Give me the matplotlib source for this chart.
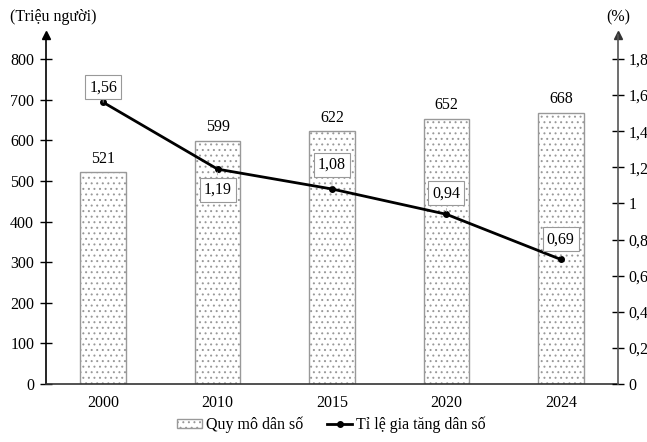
import matplotlib
matplotlib.use("Agg")
import matplotlib.pyplot as plt
from matplotlib.patches import Patch
from matplotlib.lines import Line2D

years = ["2000", "2010", "2015", "2020", "2024"]
population = [521, 599, 622, 652, 668]
growth = [1.56, 1.19, 1.08, 0.94, 0.69]
growth_labels = ["1,56", "1,19", "1,08", "0,94", "0,69"]
left_ticks = [0, 100, 200, 300, 400, 500, 600, 700, 800]
right_ticks = [0, 0.2, 0.4, 0.6, 0.8, 1.0, 1.2, 1.4, 1.6, 1.8]
right_tick_labels = ["0", "0,2", "0,4", "0,6", "0,8", "1", "1,2", "1,4", "1,6", "1,8"]
label_offsets_px = [15, -21, 24, 21, 20]

plt.rcParams['font.family'] = ['Liberation Serif', 'DejaVu Serif']
plt.rcParams['hatch.linewidth'] = 0.7

W, H = 647, 442
fig = plt.figure(figsize=(W / 100, H / 100), dpi=100)
y0, ytop = 384, 35
ax = fig.add_axes([46 / W, (H - y0) / H, 572 / W, (y0 - ytop) / H])
ymax = 800 * (y0 - ytop) / (y0 - 59)
ax.set_xlim(-0.5, 4.5)
ax.set_ylim(0, ymax)

x = list(range(len(years)))
ax.bar(x, population, width=0.4, color='white', edgecolor='#999999',
       hatch='...', linewidth=1.0, zorder=2)
for xi, v in zip(x, population):
    ax.text(xi, v + 14, str(v), ha='center', va='bottom', fontsize=11.5)

ax.set_yticks(left_ticks)
ax.set_yticklabels([str(t) for t in left_ticks], fontsize=11.5)
ax.set_xticks(x)
ax.set_xticklabels(years, fontsize=11.5)
ax.tick_params(axis='x', length=0, pad=8)
ax.tick_params(axis='y', direction='inout', length=9, width=1, pad=4)
for s in ['top', 'right']:
    ax.spines[s].set_visible(False)
ax.spines['left'].set_linewidth(1.2)
ax.spines['bottom'].set_linewidth(1.2)
ax.spines['bottom'].set_color('#333333')

ax2 = ax.twinx()
ax2.set_ylim(0, ymax * 1.8 / 800)
ax2.set_yticks(right_ticks)
ax2.set_yticklabels(right_tick_labels, fontsize=11.5)
ax2.tick_params(axis='y', direction='inout', length=9, width=1, pad=3)
for s in ['top', 'left', 'bottom']:
    ax2.spines[s].set_visible(False)
ax2.spines['right'].set_linewidth(1.2)
ax2.spines['right'].set_color('#555555')

ax2.plot(x, growth, color='black', linewidth=2, marker='o', markersize=4, zorder=5)
for xi, v, lab, off in zip(x, growth, growth_labels, label_offsets_px):
    ax2.annotate(lab, xy=(xi, v), xytext=(0, off * 0.72), textcoords='offset points',
                 ha='center', va='center', fontsize=11.5,
                 bbox=dict(boxstyle='square,pad=0.25', fc='white', ec='#999999', lw=0.8),
                 arrowprops=dict(arrowstyle='-', color='#aaaaaa', lw=0.6), zorder=6)

# axis arrows
ax.plot([0], [1], marker='^', color='black', markersize=6, transform=ax.transAxes, clip_on=False)
ax2.plot([1], [1], marker='^', color='#333333', markersize=6, transform=ax2.transAxes, clip_on=False)

fig.text(10 / W, 1 - 17 / H, "(Triệu người)", ha='left', va='center', fontsize=11.5)
fig.text(618 / W, 1 - 17 / H, "(%)", ha='center', va='center', fontsize=11.5)

handles = [Patch(facecolor='white', edgecolor='#999999', hatch='...', label='Quy mô dân số'),
           Line2D([0], [0], color='black', lw=2, marker='o', markersize=4, label='Tỉ lệ gia tăng dân số')]
fig.legend(handles=handles, loc='center', bbox_to_anchor=(331 / W, 1 - 425 / H), ncol=2,
           frameon=False, fontsize=11.5, handlelength=1.6, handleheight=0.5,
           handletextpad=0.2, columnspacing=1.5)

fig.savefig("out.png", dpi=100)
